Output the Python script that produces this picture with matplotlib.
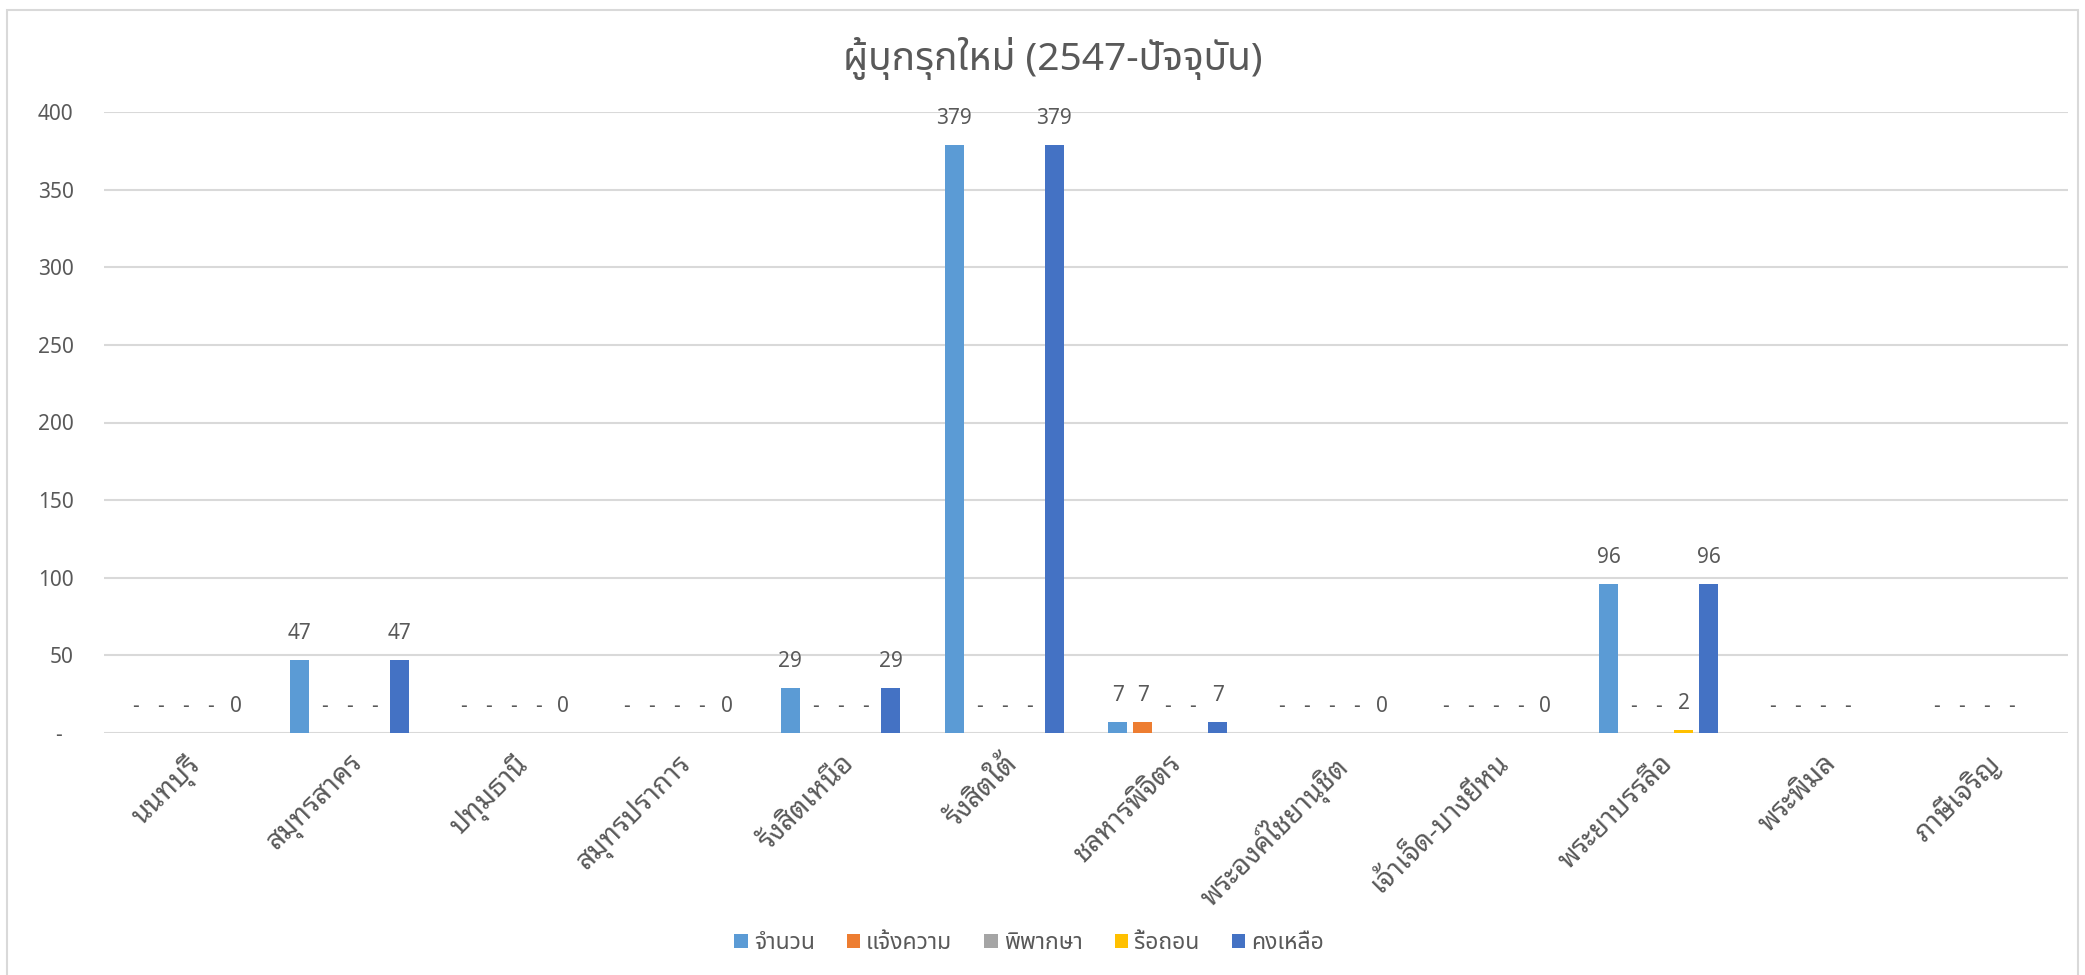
import numpy as np
import matplotlib
matplotlib.use("Agg")
import matplotlib.pyplot as plt
from matplotlib import font_manager
from matplotlib.patches import Rectangle, Patch

# --- Data ---
categories = ["นนทบุรี", "สมุทรสาคร", "ปทุมธานี", "สมุทรปราการ", "รังสิตเหนือ", "รังสิตใต้",
              "ชลหารพิจิตร", "พระองค์ไชยานุชิต", "เจ้าเจ็ด-บางยี่หน", "พระยาบรรลือ", "พระพิมล", "ภาษีเจริญ"]
series_names = ["จำนวน", "แจ้งความ", "พิพากษา", "รื้อถอน", "คงเหลือ"]
count_vals = [0, 47, 0, 0, 29, 379, 7, 0, 0, 96, 0, 0]
notice_vals = [0, 0, 0, 0, 0, 0, 7, 0, 0, 0, 0, 0]
judged_vals = [0, 0, 0, 0, 0, 0, 0, 0, 0, 0, 0, 0]
removed_vals = [0, 0, 0, 0, 0, 0, 0, 0, 0, 2, 0, 0]
remaining_vals = [0, 47, 0, 0, 29, 379, 7, 0, 0, 96, None, None]
y_ticks = [0, 50, 100, 150, 200, 250, 300, 350, 400]
title = "ผู้บุกรุกใหม่ (2547-ปัจจุบัน)"

colors = ["#5B9BD5", "#ED7D31", "#A5A5A5", "#FFC000", "#4472C4"]
dash_for_zero = [True, True, True, True, False]
TEXT = "#595959"

# pick fonts with Thai glyphs
available = {f.name for f in font_manager.fontManager.ttflist}
thai_font = next((f for f in ["Noto Sans Thai", "Sarabun", "Anuphan"]
                  if f in available), "DejaVu Sans")
looped_font = next((f for f in ["Noto Sans Thai Looped", "Noto Serif Thai", thai_font]
                    if f in available), thai_font)
plt.rcParams['font.family'] = ['Noto Sans', thai_font, 'DejaVu Sans']
label_family = ['Noto Sans', looped_font, 'DejaVu Sans']

W, H = 2085, 975
fig = plt.figure(figsize=(W / 100, H / 100), dpi=100)
fig.patches.append(Rectangle((7 / W, -0.01), (2078 - 7) / W, (H - 10) / H + 0.01,
                             transform=fig.transFigure, fill=False,
                             edgecolor="#D9D9D9", linewidth=1.5))

ax = fig.add_axes([104 / W, (H - 733) / H, (2068 - 104) / W, (733 - 112) / H])

all_vals = [count_vals, notice_vals, judged_vals, removed_vals, remaining_vals]
x = np.arange(len(categories))
step = 0.153
bar_w = 0.116

for i, (name, vals) in enumerate(zip(series_names, all_vals)):
    xs = x + (i - 2) * step
    heights = [v if v is not None else 0 for v in vals]
    ax.bar(xs, heights, width=bar_w, color=colors[i], label=name, zorder=3)
    for xi, v in zip(xs, vals):
        if v is None:
            continue
        txt = "-" if (v == 0 and dash_for_zero[i]) else str(v)
        ax.annotate(txt, (xi, v), xytext=(0, 19), textcoords="offset points",
                    ha="center", va="center", fontsize=15, color=TEXT)

ax.set_xlim(-0.5, len(categories) - 0.5)
ax.set_ylim(0, 400)
ax.set_yticks(y_ticks)
ax.set_yticklabels(["-  " if t == 0 else str(t) for t in y_ticks])
ax.set_xticks(x)
ax.set_xticklabels(categories, rotation=45, ha="right", rotation_mode="anchor",
                   family=label_family, fontsize=20)
ax.tick_params(axis="y", length=0, labelsize=15, labelcolor=TEXT, pad=22)
ax.tick_params(axis="x", length=0, labelcolor=TEXT, pad=12)
ax.grid(axis="y", color="#D9D9D9", linewidth=1.5, zorder=0)
for s in ax.spines.values():
    s.set_visible(False)

fig.text(1053 / W, 1 - 58 / H, title, ha="center", va="center", fontsize=28, color=TEXT)

handles = [Patch(facecolor=c, edgecolor="none") for c in colors]
fig.legend(handles, series_names, loc="center", bbox_to_anchor=(1029 / W, 32 / H), ncol=5,
           frameon=False, fontsize=16.5, handlelength=0.6, handleheight=0.6,
           handletextpad=0.25, columnspacing=1.4, labelcolor=TEXT)

fig.savefig("out.png", dpi=100)
